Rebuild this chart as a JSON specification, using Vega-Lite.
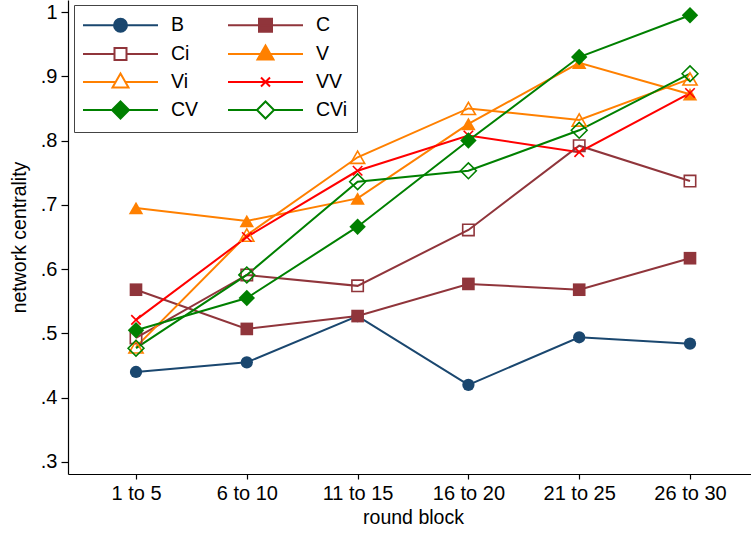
{
  "$schema": "https://vega.github.io/schema/vega-lite/v6.json",
  "width": 683,
  "height": 474,
  "autosize": {"type": "none"},
  "padding": {"left": 68, "top": 0, "right": 0, "bottom": 59},
  "background": "white",
  "config": {
    "font": "Liberation Sans",
    "view": {"stroke": null},
    "point": {"opacity": 1, "strokeWidth": 1.6},
    "axis": {
      "domainColor": "black",
      "tickColor": "black",
      "labelColor": "black",
      "titleColor": "black",
      "labelFont": "Liberation Sans",
      "titleFont": "Liberation Sans",
      "titleFontWeight": "normal",
      "grid": false,
      "domainWidth": 1.2,
      "tickWidth": 1.2
    }
  },
  "data": {
    "values": [
      {"block": "1 to 5", "series": "B", "value": 0.440},
      {"block": "6 to 10", "series": "B", "value": 0.455},
      {"block": "11 to 15", "series": "B", "value": 0.527},
      {"block": "16 to 20", "series": "B", "value": 0.420},
      {"block": "21 to 25", "series": "B", "value": 0.494},
      {"block": "26 to 30", "series": "B", "value": 0.484},
      {"block": "1 to 5", "series": "C", "value": 0.568},
      {"block": "6 to 10", "series": "C", "value": 0.507},
      {"block": "11 to 15", "series": "C", "value": 0.527},
      {"block": "16 to 20", "series": "C", "value": 0.577},
      {"block": "21 to 25", "series": "C", "value": 0.568},
      {"block": "26 to 30", "series": "C", "value": 0.617},
      {"block": "1 to 5", "series": "Ci", "value": 0.493},
      {"block": "6 to 10", "series": "Ci", "value": 0.591},
      {"block": "11 to 15", "series": "Ci", "value": 0.574},
      {"block": "16 to 20", "series": "Ci", "value": 0.661},
      {"block": "21 to 25", "series": "Ci", "value": 0.792},
      {"block": "26 to 30", "series": "Ci", "value": 0.737},
      {"block": "1 to 5", "series": "V", "value": 0.695},
      {"block": "6 to 10", "series": "V", "value": 0.675},
      {"block": "11 to 15", "series": "V", "value": 0.710},
      {"block": "16 to 20", "series": "V", "value": 0.826},
      {"block": "21 to 25", "series": "V", "value": 0.921},
      {"block": "26 to 30", "series": "V", "value": 0.872},
      {"block": "1 to 5", "series": "Vi", "value": 0.479},
      {"block": "6 to 10", "series": "Vi", "value": 0.653},
      {"block": "11 to 15", "series": "Vi", "value": 0.774},
      {"block": "16 to 20", "series": "Vi", "value": 0.850},
      {"block": "21 to 25", "series": "Vi", "value": 0.832},
      {"block": "26 to 30", "series": "Vi", "value": 0.896},
      {"block": "1 to 5", "series": "VV", "value": 0.521},
      {"block": "6 to 10", "series": "VV", "value": 0.650},
      {"block": "11 to 15", "series": "VV", "value": 0.753},
      {"block": "16 to 20", "series": "VV", "value": 0.808},
      {"block": "21 to 25", "series": "VV", "value": 0.782},
      {"block": "26 to 30", "series": "VV", "value": 0.874},
      {"block": "1 to 5", "series": "CV", "value": 0.505},
      {"block": "6 to 10", "series": "CV", "value": 0.555},
      {"block": "11 to 15", "series": "CV", "value": 0.666},
      {"block": "16 to 20", "series": "CV", "value": 0.800},
      {"block": "21 to 25", "series": "CV", "value": 0.930},
      {"block": "26 to 30", "series": "CV", "value": 0.995},
      {"block": "1 to 5", "series": "CVi", "value": 0.477},
      {"block": "6 to 10", "series": "CVi", "value": 0.591},
      {"block": "11 to 15", "series": "CVi", "value": 0.736},
      {"block": "16 to 20", "series": "CVi", "value": 0.753},
      {"block": "21 to 25", "series": "CVi", "value": 0.816},
      {"block": "26 to 30", "series": "CVi", "value": 0.904}
    ]
  },
  "encoding": {
    "x": {
      "field": "block",
      "type": "ordinal",
      "sort": null,
      "scale": {"type": "point", "domain": ["1 to 5", "6 to 10", "11 to 15", "16 to 20", "21 to 25", "26 to 30"], "range": [0, 690], "padding": 0.6137},
      "axis": {
        "title": "round block",
        "labelAngle": 0,
        "labelFontSize": 20,
        "titleFontSize": 19.5,
        "tickSize": 5,
        "labelPadding": 4,
        "titlePadding": 5
      }
    },
    "y": {
      "field": "value",
      "type": "quantitative",
      "scale": {"domain": [0.2813, 1.0187], "nice": false, "zero": false},
      "axis": {
        "title": "network centrality",
        "values": [0.3, 0.4, 0.5, 0.6, 0.7, 0.8, 0.9, 1],
        "labelExpr": "datum.value == 1 ? '1' : replace(format(datum.value, '.1f'), '0.', '.')",
        "labelFontSize": 20,
        "titleFontSize": 19.5,
        "tickSize": 7,
        "labelPadding": 4,
        "titlePadding": 11
      }
    }
  },
  "layer": [
    {
      "mark": {"type": "line", "strokeWidth": 2},
      "encoding": {
        "color": {
          "field": "series",
          "type": "nominal",
          "sort": null,
          "scale": {
            "domain": ["B", "C", "Ci", "V", "Vi", "VV", "CV", "CVi"],
            "range": ["#1a476f", "#90353b", "#90353b", "#ff8000", "#ff8000", "#ff0000", "#008000", "#008000"]
          },
          "legend": {
            "title": null,
            "orient": "none",
            "legendX": 6,
            "legendY": 5,
            "columns": 2,
            "direction": "horizontal",
            "fillColor": "white",
            "strokeColor": "#444444",
            "padding": 9,
            "labelFontSize": 19.5,
            "labelColor": "black",
            "labelFont": "Liberation Sans",
            "symbolSize": 400,
            "symbolStrokeWidth": 2,
            "rowPadding": 5,
            "columnPadding": 25,
            "encoding": {
              "symbols": {
                "x": {"value": 37.5},
                "shape": {"value": {"expr": "datum.value === 'B' ? 'M-3.75,0L3.75,0M0.65,0A0.65,0.65,0,1,1,-0.65,0A0.65,0.65,0,1,1,0.65,0Z' : datum.value === 'C' ? 'M-3.75,0L3.75,0M-0.65,-0.65L0.65,-0.65L0.65,0.65L-0.65,0.65Z' : datum.value === 'Ci' ? 'M-3.75,0L-0.6,0M0.6,0L3.75,0M-0.6,-0.6L0.6,-0.6L0.6,0.6L-0.6,0.6Z' : datum.value === 'V' ? 'M-3.75,0L3.75,0M0,-0.85L0.8,0.55L-0.8,0.55Z' : datum.value === 'Vi' ? 'M-3.75,0L-0.49,0M0.49,0L3.75,0M0,-0.85L0.8,0.55L-0.8,0.55Z' : datum.value === 'VV' ? 'M-3.75,0L3.75,0M-0.45,-0.45L0.45,0.45M-0.45,0.45L0.45,-0.45' : datum.value === 'CV' ? 'M-3.75,0L3.75,0M-0.85,0L0,-0.85L0.85,0L0,0.85Z' : 'M-3.75,0L-0.85,0M0.85,0L3.75,0M-0.85,0L0,-0.85L0.85,0L0,0.85Z'"}},
                "fill": {"value": {"expr": "indexof(['Ci', 'Vi', 'CVi', 'VV'], datum.value) >= 0 ? 'white' : scale('color', datum.value)"}},
                "stroke": {"value": {"expr": "scale('color', datum.value)"}},
                "size": {"value": 400},
                "strokeWidth": {"value": 2},
                "opacity": {"value": 1}
              },
              "labels": {
                "x": {"value": 88}
              }
            }
          }
        }
      }
    },
    {
      "transform": [{"filter": "datum.series === 'B'"}],
      "mark": {"type": "point", "shape": "circle", "filled": true, "color": "#1a476f", "size": 150}
    },
    {
      "transform": [{"filter": "datum.series === 'C'"}],
      "mark": {"type": "point", "shape": "square", "filled": true, "color": "#90353b", "size": 160}
    },
    {
      "transform": [{"filter": "datum.series === 'Ci'"}],
      "mark": {"type": "point", "shape": "square", "filled": false, "color": "#90353b", "size": 130}
    },
    {
      "transform": [{"filter": "datum.series === 'V'"}],
      "mark": {"type": "point", "shape": "triangle-up", "filled": true, "color": "#ff8000", "size": 210}
    },
    {
      "transform": [{"filter": "datum.series === 'Vi'"}],
      "mark": {"type": "point", "shape": "triangle-up", "filled": false, "color": "#ff8000", "size": 200}
    },
    {
      "transform": [{"filter": "datum.series === 'VV'"}],
      "mark": {"type": "point", "shape": "M-1,-1L1,1M-1,1L1,-1", "filled": false, "color": "#ff0000", "size": 90}
    },
    {
      "transform": [{"filter": "datum.series === 'CV'"}],
      "mark": {"type": "point", "shape": "diamond", "filled": true, "color": "#008000", "size": 270}
    },
    {
      "transform": [{"filter": "datum.series === 'CVi'"}],
      "mark": {"type": "point", "shape": "diamond", "filled": false, "color": "#008000", "size": 250}
    }
  ]
}
